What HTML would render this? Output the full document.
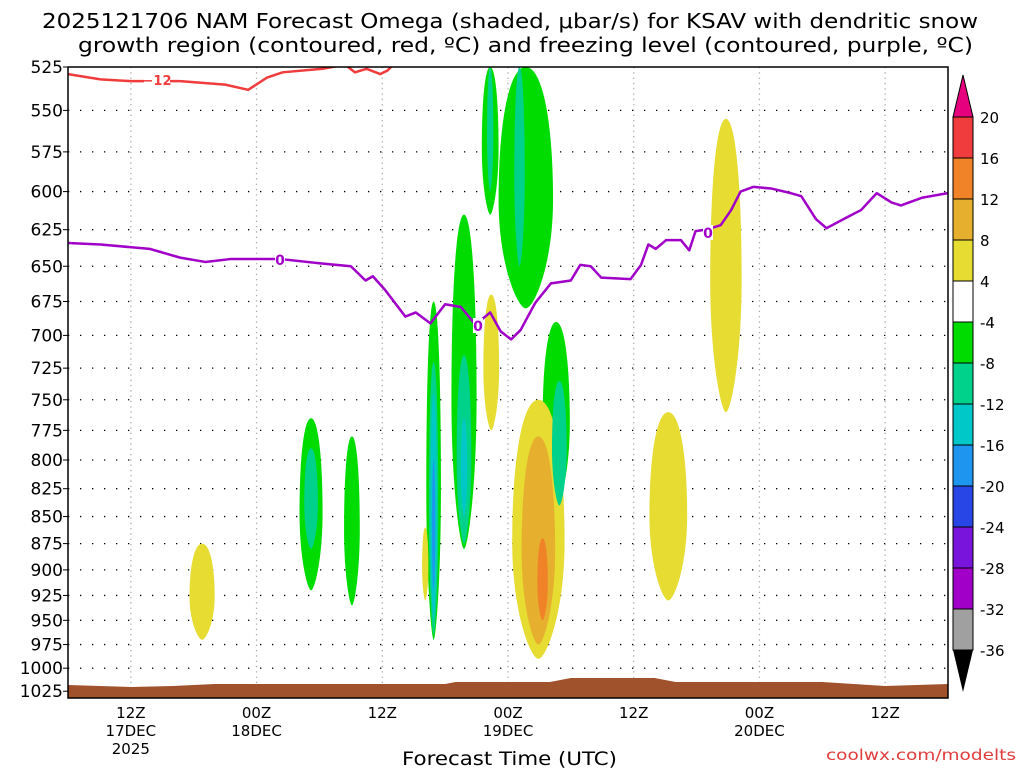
<!DOCTYPE html>
<html><head><meta charset="utf-8"><style>
body{margin:0;background:#fff;}
svg{display:block;font-family:"DejaVu Sans","Liberation Sans",sans-serif;}
</style></head><body>
<svg id="chart" width="1024" height="768" viewBox="0 0 1024 768">
<text x="42" y="28" font-size="20" textLength="936" lengthAdjust="spacingAndGlyphs">2025121706 NAM Forecast Omega (shaded, μbar/s) for KSAV with dendritic snow</text>
<text x="78" y="52" font-size="20" textLength="895" lengthAdjust="spacingAndGlyphs">growth region (contoured, red, ºC) and freezing level (contoured, purple, ºC)</text>
<g id="grid"></g>
<g id="shading"></g>
<g id="lines"></g>
<rect x="68" y="67" width="880" height="631" fill="none" stroke="#000" stroke-width="1.5"/>
<g id="yaxis"></g>
<g id="xaxis"></g>
<text x="402" y="765" font-size="19" textLength="215" lengthAdjust="spacingAndGlyphs">Forecast Time (UTC)</text>
<text x="826" y="760" font-size="15" textLength="190" lengthAdjust="spacingAndGlyphs" fill="#e03c3c">coolwx.com/modelts</text>
<g id="cbar"></g>
</svg>
<script>
const pressureTicks=[525,550,575,600,625,650,675,700,725,750,775,800,825,850,875,900,925,950,975,1000,1025];
const timeTickHours=[6,18,30,42,54,66,78];
const timeTickLabels=[["12Z","17DEC","2025"],["00Z","18DEC"],["12Z"],["00Z","19DEC"],["12Z"],["00Z","20DEC"],["12Z"]];
const fzHours=[0,3.1,7.8,10.7,13.1,15.5,20.3,24.1,27,28.4,29.1,30.3,32.2,33.2,34.6,36,37.5,38.9,40.3,41.3,42.3,43.2,44.6,46.1,48,48.9,49.9,50.9,53.7,54.7,55.4,56.1,57.1,58.5,59.3,59.9,60.9,62.3,63.3,64.2,65.4,67.1,69,70,71.4,72.4,74.3,75.7,77.2,78.6,79.5,81.5,84];
const fzPres=[634,635,638,644,647,645,645,648,650,660,657,667,686,683,691,677,679,692,683,697,703,696,676,662,660,649,650,658,659,649,635,638,632,632,639,626,625,622,612,600,597,598,601,603,618,624,617,612,601,607,609,604,601];
const dgzHours=[0,3.1,6,10.7,15,17.2,19,20.5,24.3,26.2];
const dgzPres=[529,532,533,533,535,538,531,528,526,524];
const dgz2Hours=[26.5,27.4,28.5,29.8,30.5,31.0];
const dgz2Pres=[524,528,526,529,527,524];
// blobs: center hour, top pressure, bottom pressure, width hours, omega level
const blobHour=[12.8,23.2,27.1,34.9,37.8,40.3,43.7,46.6,40.4,44.9,57.3,62.8,34.1, 23.2,34.9,37.8,40.3,43.1,46.9,34.9,37.8,34.9,44.9,45.3];
const blobTop=[875,765,780,675,615,525,525,690,670,750,760,555,860, 790,720,715,525,525,735,745,765,800,780,870];
const blobBot=[970,920,935,970,880,615,680,840,775,990,930,760,930, 880,965,875,600,650,840,950,850,920,975,950];
const blobWidth=[2.4,2.2,1.5,1.4,2.4,1.6,5.2,2.6,1.5,5.0,3.6,3.0,0.6, 1.3,0.9,1.4,0.6,1.0,1.4,0.6,0.6,0.3,3.2,1.0];
const blobLevel=[6,-6,-6,-6,-6,-6,-6,-6,6,6,6,6,6, -10,-10,-10,-10,-10,-10,-14,-14,-18,10,14];
const cbLevels=[20,16,12,8,4,-4,-8,-12,-16,-20,-24,-28,-32,-36];
const cbColors=["#f03c3c","#f08228","#e6af2d","#e6dc32","#ffffff","#00dc00","#00d28c","#00c8c8","#1e96f0","#2846e6","#7814dc","#a000c8","#a0a0a0"];

const NS="http://www.w3.org/2000/svg";
const X0=68,X1=948,Y0=67,Y1=698;
const xs=h=>X0+h*(X1-X0)/84;
const ys=p=>Y0+933*Math.log(p/525);
function mk(tag,attrs,parent){const e=document.createElementNS(NS,tag);for(const k in attrs)e.setAttribute(k,attrs[k]);parent.appendChild(e);return e;}
function colorFor(v){if(v>=16)return cbColors[0];if(v>=12)return cbColors[1];if(v>=8)return cbColors[2];if(v>=4)return cbColors[3];if(v>-4)return cbColors[4];if(v>-8)return cbColors[5];if(v>-12)return cbColors[6];if(v>-16)return cbColors[7];if(v>-20)return cbColors[8];return cbColors[9];}
const grid=document.getElementById('grid'),yax=document.getElementById('yaxis'),xax=document.getElementById('xaxis');
pressureTicks.forEach(p=>{const y=ys(p);
 if(p>525&&p<1025){const l=mk('line',{x1:X0,x2:X1,y1:y,y2:y,stroke:'#000','stroke-width':1.3,'stroke-dasharray':'1.3 10.7'},grid);
 
 }
 const tk=mk('line',{x1:X0-5,x2:X0,y1:y,y2:y,stroke:'#000'},yax);
 
 
 const t=mk('text',{x:63,y:y+6,'text-anchor':'end','font-size':17},yax);t.textContent=p;
 
 
});
timeTickHours.forEach((h,i)=>{const x=xs(h);
 const l=mk('line',{x1:x,x2:x,y1:Y0,y2:Y1,stroke:'#aaa','stroke-width':1.3,'stroke-dasharray':'1.3 4'},grid);
 
 
 timeTickLabels[i].forEach((s,j)=>{const t=mk('text',{x:x,y:718+j*18,'text-anchor':'middle','font-size':15},xax);t.textContent=s;
 
 });
});
const sh=document.getElementById('shading');
blobHour.forEach((h,i)=>{if(blobWidth[i]<=0)return;const cx=xs(h),yt=ys(blobTop[i]),yb=ys(blobBot[i]),w=blobWidth[i]*(X1-X0)/84/2;
 const ym=yt+(yb-yt)*0.55;
 const d=`M${cx},${yt} C${cx+w*0.6},${yt} ${cx+w},${ym-(ym-yt)*0.6} ${cx+w},${ym} C${cx+w},${ym+(yb-ym)*0.6} ${cx+w*0.3},${yb} ${cx},${yb} C${cx-w*0.3},${yb} ${cx-w},${ym+(yb-ym)*0.6} ${cx-w},${ym} C${cx-w},${ym-(ym-yt)*0.6} ${cx-w*0.6},${yt} ${cx},${yt}Z`;
 const p=mk('path',{d:d,fill:colorFor(blobLevel[i])},sh);
 
 
});
const defs=mk('defs',{},document.getElementById('chart'));
const cp=mk('clipPath',{id:'cp'},defs);
mk('rect',{x:X0,y:Y0,width:X1-X0,height:Y1-Y0},cp);
sh.setAttribute('clip-path','url(#cp)');
const terr=mk('path',{d:`M${X0},${Y1} L${X0},685 L${xs(6)},687 L${xs(10)},686 L${xs(14)},684 L${xs(36)},684 L${xs(37)},682 L${xs(46)},682 L${xs(48)},678 L${xs(56)},678 L${xs(58)},682 L${xs(72)},682 L${xs(78)},686 L${xs(84)},684 L${X1},${Y1}Z`,fill:'#a0522d'},sh);


const ln=document.getElementById('lines');
function poly(hs,ps,col,name){const pts=hs.map((h,i)=>xs(h)+','+ys(ps[i])).join(' ');const e=mk('polyline',{points:pts,fill:'none',stroke:col,'stroke-width':2.5,'stroke-linejoin':'round'},ln);
 
 }
ln.setAttribute('clip-path','url(#cp)');
poly(fzHours,fzPres,'#a000c8','freezing-level-line');
poly(dgzHours,dgzPres,'#f03c3c','dendritic-growth-line');
poly(dgz2Hours,dgz2Pres,'#f03c3c','dendritic-growth-line-2');
[[280,260],[478,326],[708,233]].forEach(([x,y])=>{mk('rect',{x:x-5,y:y-8,width:10,height:15,fill:'#fff'},ln);const t=mk('text',{x:x,y:y+5,'text-anchor':'middle','font-size':14,'font-weight':'bold',fill:'#a000c8'},ln);t.textContent='0';
 
 });
mk('rect',{x:144,y:73,width:26,height:14,fill:'#fff'},ln);
const rl=mk('text',{x:157,y:85,'text-anchor':'middle','font-size':13,'font-weight':'bold',fill:'#f03c3c'},ln);rl.textContent='−12';


const cb=document.getElementById('cbar');const cx0=953,cx1=973;
const cbY=i=>117+i*41;
mk('polygon',{points:`${cx0},${cbY(0)} ${cx1},${cbY(0)} ${(cx0+cx1)/2},75`,fill:'#e6007e',stroke:'#000'},cb);
cbColors.forEach((c,i)=>{const r=mk('rect',{x:cx0,y:cbY(i),width:cx1-cx0,height:41,fill:c,stroke:'#000','stroke-width':1},cb);
 
 });
mk('polygon',{points:`${cx0},${cbY(13)} ${cx1},${cbY(13)} ${(cx0+cx1)/2},692`,fill:'#000'},cb);
cbLevels.forEach((v,i)=>{const t=mk('text',{x:980,y:cbY(i)+6,'font-size':15},cb);t.textContent=v;
 
 });
</script>
</body></html>
